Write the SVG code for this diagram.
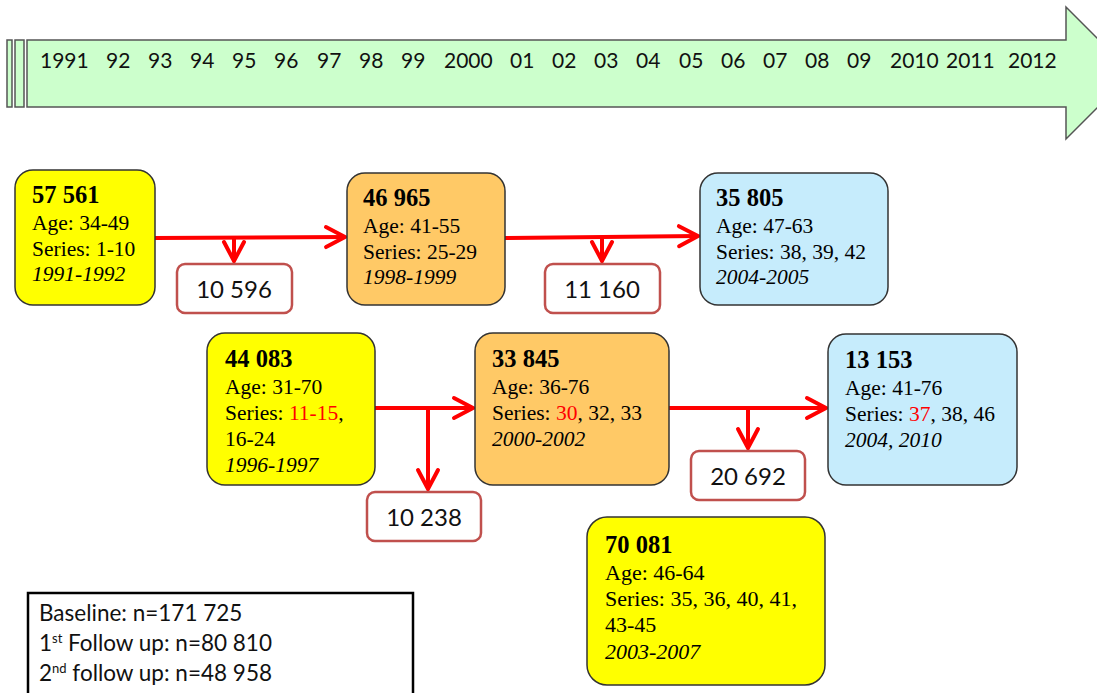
<svg xmlns="http://www.w3.org/2000/svg" width="1097" height="693" viewBox="0 0 1097 693">
<style>
.band{fill:#CCFFCC;stroke:#555;stroke-width:1.5}
.yr{font-family:Lato,"Liberation Sans",sans-serif;font-size:21px;fill:#111}
.node{stroke:#333;stroke-width:1.5}
.yel{fill:#FFFF00}.org{fill:#FFC966}.blu{fill:#C6ECFC}
.t{font-family:"Liberation Serif","Times New Roman",serif;font-size:21.5px;fill:#000}
.b{font-weight:bold;font-size:24.5px}
.i{font-style:italic}
.big{font-size:22px}
.red{fill:#FF0000}
.drop{fill:#fff;stroke:#C0504D;stroke-width:2.5}
.dt{font-family:Lato,"Liberation Sans",sans-serif;font-size:24px;fill:#111;text-anchor:middle}
.con{stroke:#FF0000;stroke-width:4;fill:none}
.leg{font-family:Lato,"Liberation Sans",sans-serif;font-size:22.5px;fill:#111}
</style>
<defs>
<marker id="ah" markerUnits="userSpaceOnUse" viewBox="-24 -14 28 28" markerWidth="28" markerHeight="28" refX="0" refY="0" orient="auto" overflow="visible">
<path d="M-19,-10 L0,0 L-19,10" fill="none" stroke="#FF0000" stroke-width="4" stroke-linecap="round" stroke-linejoin="miter"/>
</marker>
</defs>
<g id="timeline">
<rect class="band" x="7" y="40" width="5" height="67"/>
<rect class="band" x="15" y="40" width="9" height="67"/>
<polygon class="band" points="27,40 1066,40 1066,7 1132,73 1066,139 1066,107 27,107"/>
<text class="yr" y="68"><tspan x="40">1991</tspan><tspan x="106">92</tspan><tspan x="148">93</tspan><tspan x="190">94</tspan><tspan x="232">95</tspan><tspan x="274">96</tspan><tspan x="317">97</tspan><tspan x="359">98</tspan><tspan x="401">99</tspan><tspan x="444">2000</tspan><tspan x="510">01</tspan><tspan x="552">02</tspan><tspan x="594">03</tspan><tspan x="636">04</tspan><tspan x="679">05</tspan><tspan x="721">06</tspan><tspan x="763">07</tspan><tspan x="805">08</tspan><tspan x="847">09</tspan><tspan x="890">2010</tspan><tspan x="946">2011</tspan><tspan x="1008">2012</tspan></text>
</g>
<g id="connectors">
<path class="con" d="M155,238 L345,237" marker-end="url(#ah)"/>
<path class="con" d="M234,238 L234,261" marker-end="url(#ah)"/>
<path class="con" d="M505,238 L698,236" marker-end="url(#ah)"/>
<path class="con" d="M602,237 L602,261" marker-end="url(#ah)"/>
<path class="con" d="M375,408 L473,408" marker-end="url(#ah)"/>
<path class="con" d="M428,408 L428,489" marker-end="url(#ah)"/>
<path class="con" d="M669,408 L826,408" marker-end="url(#ah)"/>
<path class="con" d="M748,408 L748,448" marker-end="url(#ah)"/>
</g>
<g id="n57561">
<rect class="node yel" x="15" y="170" width="140" height="135" rx="18"/>
<text class="t b" x="32" y="203">57 561</text>
<text class="t" x="32" y="230">Age: 34-49</text>
<text class="t" x="32" y="256">Series: 1-10</text>
<text class="t i" x="32" y="281">1991-1992</text>
</g>
<g id="n46965">
<rect class="node org" x="347" y="173" width="158" height="132" rx="18"/>
<text class="t b" x="363" y="206">46 965</text>
<text class="t" x="363" y="233">Age: 41-55</text>
<text class="t" x="363" y="259">Series: 25-29</text>
<text class="t i" x="363" y="284">1998-1999</text>
</g>
<g id="n35805">
<rect class="node blu" x="700" y="173" width="188" height="132" rx="18"/>
<text class="t b" x="716" y="206">35 805</text>
<text class="t" x="716" y="233">Age: 47-63</text>
<text class="t" x="716" y="259">Series: 38, 39, 42</text>
<text class="t i" x="716" y="284">2004-2005</text>
</g>
<g id="n44083">
<rect class="node yel" x="207" y="333" width="168" height="152" rx="18"/>
<text class="t b" x="225" y="367">44 083</text>
<text class="t" x="225" y="394">Age: 31-70</text>
<text class="t" x="225" y="420">Series: <tspan class="red">11-15</tspan>,</text>
<text class="t" x="225" y="446">16-24</text>
<text class="t i" x="225" y="472">1996-1997</text>
</g>
<g id="n33845">
<rect class="node org" x="475" y="333" width="194" height="152" rx="18"/>
<text class="t b" x="492" y="367">33 845</text>
<text class="t" x="492" y="394">Age: 36-76</text>
<text class="t" x="492" y="420">Series: <tspan class="red">30</tspan>, 32, 33</text>
<text class="t i" x="492" y="446">2000-2002</text>
</g>
<g id="n13153">
<rect class="node blu" x="828" y="334" width="189" height="151" rx="18"/>
<text class="t b" x="845" y="368">13 153</text>
<text class="t" x="845" y="395">Age: 41-76</text>
<text class="t" x="845" y="421">Series: <tspan class="red">37</tspan>, 38, 46</text>
<text class="t i" x="845" y="447">2004, 2010</text>
</g>
<g id="n70081">
<rect class="node yel" x="587" y="517" width="238" height="168" rx="20"/>
<text class="t b" x="605" y="553">70 081</text>
<text class="t big" x="605" y="580">Age: 46-64</text>
<text class="t big" x="605" y="606">Series: 35, 36, 40, 41,</text>
<text class="t big" x="605" y="632">43-45</text>
<text class="t i big" x="605" y="659">2003-2007</text>
</g>
<g id="d10596">
<rect class="drop" x="177" y="264" width="115" height="49" rx="8"/>
<text class="dt" x="234" y="298">10 596</text>
</g>
<g id="d11160">
<rect class="drop" x="545" y="264" width="115" height="49" rx="8"/>
<text class="dt" x="602" y="298">11 160</text>
</g>
<g id="d10238">
<rect class="drop" x="367" y="492" width="114" height="49" rx="8"/>
<text class="dt" x="424" y="526">10 238</text>
</g>
<g id="d20692">
<rect class="drop" x="691" y="451" width="114" height="49" rx="8"/>
<text class="dt" x="748" y="485">20 692</text>
</g>
<g id="legend">
<rect x="28" y="593" width="385" height="104" fill="#fff" stroke="#000" stroke-width="2.5"/>
<text class="leg" x="39" y="621">Baseline: n=171 725</text>
<text class="leg" x="39" y="651">1<tspan font-size="13" dy="-8">st</tspan><tspan dy="8"> Follow up: n=80 810</tspan></text>
<text class="leg" x="39" y="681">2<tspan font-size="13" dy="-8">nd</tspan><tspan dy="8"> follow up: n=48 958</tspan></text>
</g>
</svg>
